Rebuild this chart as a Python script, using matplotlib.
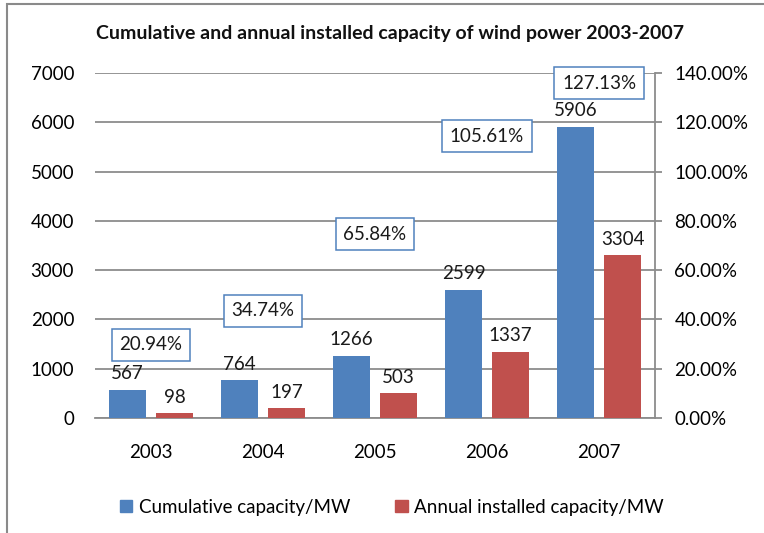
#!/usr/bin/env python
# -*- coding: utf-8 -*-

"""
plot.py

Cumulative and annual installed capacity of wind power 2003-2007,
bars on the left axis, growth rate labels on the right axis.
"""
# ~~~ 1) Imports ~~~~~~~~~~~~~~~~~~~~~~~~~~~~~~~~~~~~~~~~~~~~~~~~~~~~~~~~~~~~~ #
import matplotlib
matplotlib.use('Agg')
import matplotlib.pyplot as plt
import numpy as np
from matplotlib.patches import Patch, Rectangle
from matplotlib.ticker import FuncFormatter, MultipleLocator

# ~~~ 2) Data ~~~~~~~~~~~~~~~~~~~~~~~~~~~~~~~~~~~~~~~~~~~~~~~~~~~~~~~~~~~~~~~~ #
years = ['2003', '2004', '2005', '2006', '2007']
cumulative = [567, 764, 1266, 2599, 5906]
annual = [98, 197, 503, 1337, 3304]
growth = [20.94, 34.74, 65.84, 105.61, 127.13]   # percent

title = 'Cumulative and annual installed capacity of wind power 2003-2007'
labelCum = 'Cumulative capacity/MW'
labelAnn = 'Annual installed capacity/MW'

BLUE = '#4F81BD'
RED = '#C0504D'
GRID = '#8c8c8c'
FONT = 'Lato'
FS = 13.5


# ~~~ 3) Plot ~~~~~~~~~~~~~~~~~~~~~~~~~~~~~~~~~~~~~~~~~~~~~~~~~~~~~~~~~~~~~~~~ #
def plotChart():
    plt.rcParams['font.family'] = [FONT, 'DejaVu Sans']
    W, H = 764, 533
    fig = plt.figure(figsize=(W / 100, H / 100), dpi=100)
    ax = fig.add_axes([95 / W, 1 - 418 / H, 560 / W, 345 / H])
    ax2 = ax.twinx()

    x = np.arange(len(years))
    bw = 0.33
    ax.bar(x - 0.21, cumulative, bw, color=BLUE, zorder=3)
    ax.bar(x + 0.21, annual, bw, color=RED, zorder=3)

    for xi, v in zip(x, cumulative):
        ax.annotate(str(v), (xi - 0.21, v), xytext=(0, 5.5),
                    textcoords='offset points', ha='center', va='bottom',
                    fontsize=FS, color='#1a1a1a')
    for xi, v in zip(x, annual):
        ax.annotate(str(v), (xi + 0.21, v), xytext=(0, 5.5),
                    textcoords='offset points', ha='center', va='bottom',
                    fontsize=FS, color='#1a1a1a')

    ax.set_xlim(-0.5, len(years) - 0.5)
    ax.set_ylim(0, 7000)
    ax.yaxis.set_major_locator(MultipleLocator(1000))
    ax.set_xticks(x)
    ax.set_xticklabels(years)
    ax.grid(axis='y', color=GRID, lw=1.3, zorder=0)
    ax.set_axisbelow(True)
    ax.tick_params(axis='y', length=0, pad=15, labelsize=FS)
    ax.tick_params(axis='x', length=0, pad=19, labelsize=FS)
    for s in ['top', 'left', 'right']:
        ax.spines[s].set_visible(False)
    ax.spines['bottom'].set_color(GRID)
    ax.spines['bottom'].set_linewidth(1.3)

    # growth rate labels sit above invisible points on the right axis
    ax2.set_ylim(0, 1.4)
    ax2.yaxis.set_major_locator(MultipleLocator(0.2))
    ax2.yaxis.set_major_formatter(FuncFormatter(lambda v, p: '%.2f%%' % (v * 100)))
    ax2.tick_params(axis='y', length=5, width=1.3, color=GRID, pad=9,
                    labelsize=FS)
    for s in ['top', 'left', 'bottom']:
        ax2.spines[s].set_visible(False)
    ax2.spines['right'].set_color(GRID)
    ax2.spines['right'].set_linewidth(1.3)
    for xi, g in zip(x, growth):
        ax2.annotate('%.2f%%' % g, (xi, g / 100), xytext=(0, 15.5),
                     textcoords='offset points', ha='center', va='center',
                     fontsize=FS, color='#1a1a1a',
                     bbox=dict(boxstyle='square,pad=0.4', fc='white',
                               ec=BLUE, lw=1.1))

    fig.text(390 / W, 1 - 33 / H, title, ha='center', va='center',
             fontsize=14, fontweight='bold', color='#111111')

    handles = [Patch(color=BLUE, label=labelCum),
               Patch(color=RED, label=labelAnn)]
    fig.legend(handles=handles, loc='center', ncol=2,
               bbox_to_anchor=(392 / W, 1 - 507 / H), frameon=False,
               fontsize=FS, handlelength=0.65, handleheight=0.65,
               handletextpad=0.35, columnspacing=2.4)

    # outer chart frame
    fig.add_artist(Rectangle((7 / W, -0.2), 1.2, 1.2 - 4 / H,
                             transform=fig.transFigure, fill=False,
                             ec='#8a8a8a', lw=1.5, clip_on=False))

    fig.savefig('out.png', dpi=100)
    plt.close(fig)


# ~~~ 4) Main Function ~~~~~~~~~~~~~~~~~~~~~~~~~~~~~~~~~~~~~~~~~~~~~~~~~~~~~~~ #
def main():
    plotChart()


if __name__ == '__main__':
    main()
